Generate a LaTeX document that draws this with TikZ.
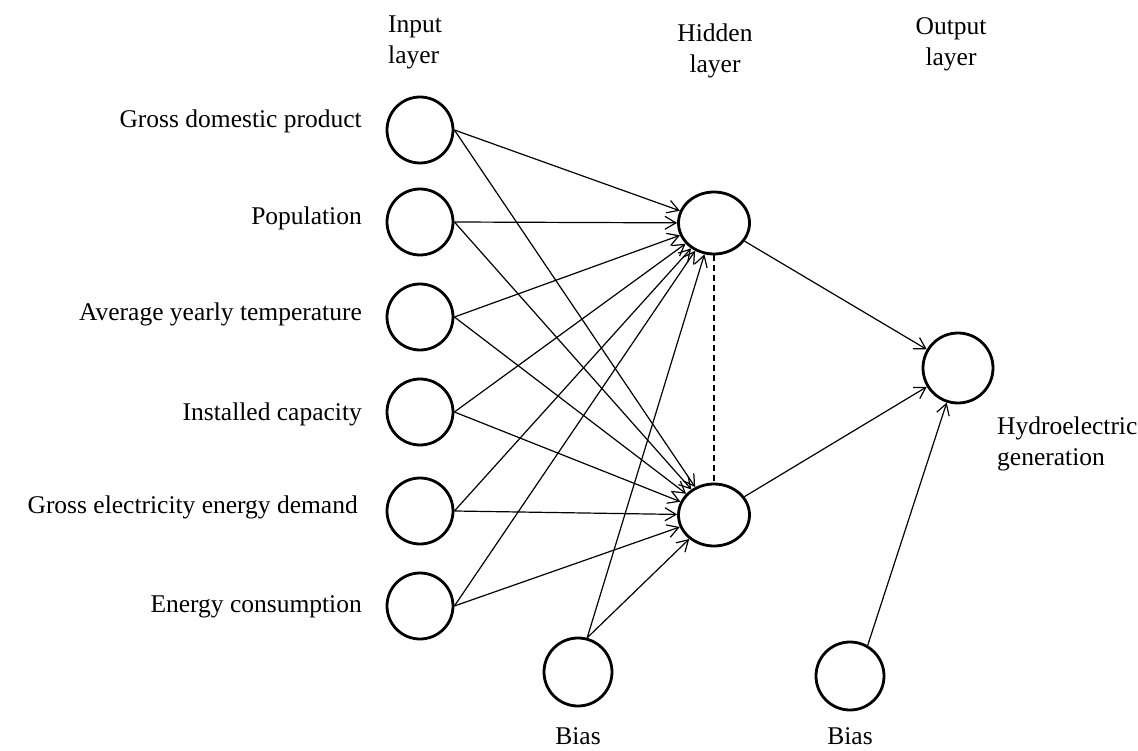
\documentclass[tikz,border=0pt]{standalone}
\usepackage{fontspec}
\setmainfont{Liberation Serif}
\usetikzlibrary{arrows.meta,shapes.geometric}
\begin{document}
\begin{tikzpicture}[x=1pt,y=-1pt,
  neuron/.style={draw, line width=2.8pt, circle, minimum size=66pt, inner sep=0pt},
  hid/.style={draw, line width=2.8pt, ellipse, minimum width=71pt, minimum height=62pt, inner sep=0pt},
  lbl/.style={font=\fontsize{25.5}{31}\selectfont, inner sep=0pt},
  conn/.style={line width=1.2pt, -{Straight Barb[length=11pt,width=13pt,line width=1.2pt]}},
]
\useasboundingbox (0,0) rectangle (1138,751);
% input neurons
\node[neuron] (in1) at (420,130) {};
\node[neuron] (in2) at (420,222) {};
\node[neuron] (in3) at (420,317) {};
\node[neuron] (in4) at (420,412) {};
\node[neuron] (in5) at (420,511) {};
\node[neuron] (in6) at (420,606) {};
% hidden
\node[hid] (h1) at (714,223) {};
\node[hid] (h2) at (714,515) {};
% output
\node[neuron, minimum size=70pt] (out) at (958,368) {};
% bias
\node[neuron, minimum size=68pt] (b1) at (578,672) {};
\node[neuron, minimum size=68pt] (b2) at (850,676) {};
% labels
\node[lbl, anchor=base east] (l1) at (362,128) {Gross domestic product};
\node[lbl, anchor=base east] (l2) at (362,225) {Population};
\node[lbl, anchor=base east] (l3) at (362,320) {Average yearly temperature};
\node[lbl, anchor=base east] (l4) at (362,420) {Installed capacity};
\node[lbl, anchor=base east] (l5) at (358,513) {Gross electricity energy demand};
\node[lbl, anchor=base east] (l6) at (362,612) {Energy consumption};
\node[lbl, anchor=north west, align=left] (tin) at (388,15.5) {Input\\layer};
\node[lbl, anchor=north, align=center] (thid) at (715,24) {Hidden\\layer};
\node[lbl, anchor=north, align=center] (tout) at (951,17) {Output\\layer};
\node[lbl, anchor=north west, align=left] (tgen) at (997,417) {Hydroelectric\\generation};
\node[lbl, anchor=base] (tb1) at (578,744) {Bias};
\node[lbl, anchor=base] (tb2) at (850,744) {Bias};
% connections
\foreach \i in {1,...,6} {
  \draw[conn] (in\i.east) -- (h1);
  \draw[conn] (in\i.east) -- (h2);
}
\draw[conn] (b1.75) -- (h1);
\draw[conn] (b1.75) -- (h2);
\draw[conn] (h1) -- (out);
\draw[conn] (h2) -- (out);
\draw[conn] (b2.60) -- (out);
\draw[line width=1.2pt, dash pattern=on 6pt off 4pt] (h1.south) -- (h2.north);
\end{tikzpicture}
\end{document}
